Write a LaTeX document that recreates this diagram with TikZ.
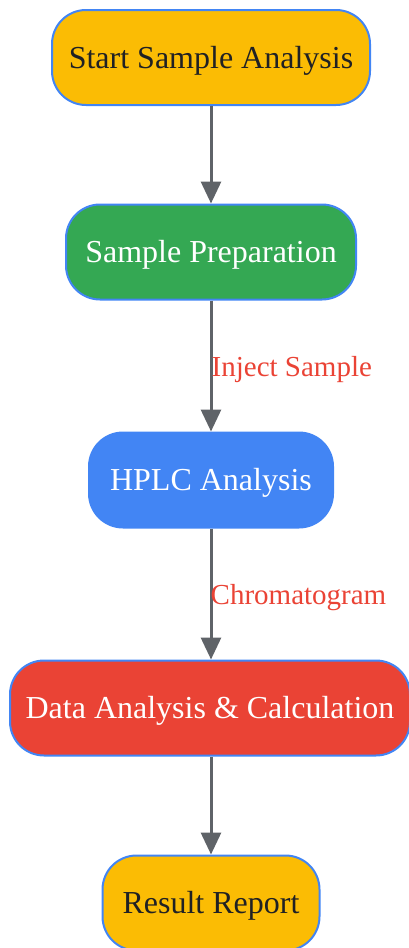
\documentclass[tikz,border=0pt]{standalone}
\usepackage{fontspec}
\setmainfont{Liberation Serif}
\usetikzlibrary{arrows.meta}
\definecolor{cyellow}{HTML}{FBBC04}
\definecolor{cgreen}{HTML}{34A853}
\definecolor{cblue}{HTML}{4285F4}
\definecolor{cred}{HTML}{EA4335}
\definecolor{cgray}{HTML}{5F6368}
\definecolor{cdark}{HTML}{202124}
\tikzset{
  box/.style={draw=cblue, line width=2pt, rounded corners=34pt, minimum height=95pt,
    inner sep=0pt, text height=21.5pt, text depth=0pt, font=\fontsize{32}{37}\selectfont},
  flow/.style={draw=cgray, line width=3pt, -{Triangle[length=22pt,width=20pt]}},
  elabel/.style={text=cred, font=\fontsize{29}{34}\selectfont, anchor=base west, inner sep=0pt}
}
\begin{document}
\begin{tikzpicture}[x=1pt,y=-1pt]
\useasboundingbox (0,0) rectangle (409,948);
\node[box, fill=cyellow, text=cdark, minimum width=318pt] (start) at (211,57.5) {Start Sample Analysis};
\node[box, fill=cgreen, text=white, minimum width=290pt] (prep) at (211,252) {Sample Preparation};
\node[box, fill=cblue, text=white, minimum width=244pt] (hplc) at (211,480) {HPLC Analysis};
\node[box, fill=cred, text=white, minimum width=400pt] (data) at (210,708) {Data Analysis \& Calculation};
\node[box, fill=cyellow, text=cdark, minimum width=217pt] (result) at (211,903) {Result Report};
\draw[flow] (start.south) -- (prep.north);
\draw[flow] (prep.south) -- (hplc.north);
\node[elabel] (l1) at (211.5,376) {Inject Sample};
\draw[flow] (hplc.south) -- (data.north -| hplc.south);
\node[elabel] (l2) at (210.5,604) {Chromatogram};
\draw[flow] (data.south -| hplc.south) -- (result.north);
\end{tikzpicture}
\end{document}
